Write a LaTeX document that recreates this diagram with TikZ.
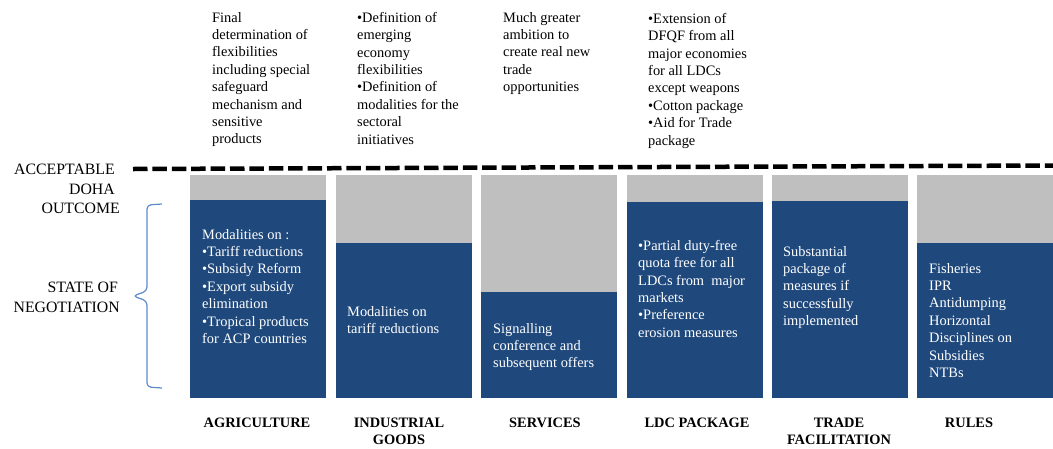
\documentclass[tikz,border=0pt]{standalone}
\usepackage{fontspec}
\setmainfont{Liberation Serif}
\definecolor{barblue}{HTML}{1F497D}
\definecolor{bargray}{HTML}{BFBFBF}
\definecolor{bracecol}{HTML}{5B8BCB}
\begin{document}
\begin{tikzpicture}[x=1pt,y=-1pt,
    txt/.style={inner sep=0pt,anchor=north west,align=left,font=\fontsize{14.4}{17.4}\selectfont},
    intxt/.style={txt,text=white},
    sector/.style={inner sep=0pt,anchor=north,align=center,font=\fontsize{14.4}{17}\selectfont\bfseries},
    side/.style={inner sep=0pt,anchor=north east,align=right,font=\fontsize{15.8}{19.5}\selectfont}]
  \useasboundingbox (0,0) rectangle (1053,448);
  % bars: left edge / top of the blue part
  \foreach \x/\t in {190/200,336/243,481/292,627/202,772/201,917/243}{
    \fill[bargray] (\x,175) rectangle (\x+136,\t);
    \fill[barblue] (\x,\t) rectangle (\x+136,398);}
  \draw[line width=4.5pt,dash pattern=on 14.5pt off 4.9pt] (133,169) -- (1053,165.5);
  \draw[bracecol,line width=1.2pt,rounded corners=4pt] (162,204) -- (147,205) -- (147,291) -- (133,296) -- (147,301) -- (147,387) -- (162,388);
  \node[side] (acc) at (120,164) {ACCEPTABLE\kern5pt\\DOHA\kern5pt\\OUTCOME};
  \node[side] (son) at (120,282) {STATE OF\kern2pt\\NEGOTIATION};
  % targets above the line
  \node[txt] (tagr) at (212,12) {Final\\determination of\\flexibilities\\including special\\safeguard\\mechanism and\\sensitive\\products};
  \node[txt] (tind) at (357,12) {•Definition of\\emerging\\economy\\flexibilities\\•Definition of\\modalities for the\\sectoral\\initiatives};
  \node[txt] (tser) at (503,12) {Much greater\\ambition to\\create real new\\trade\\opportunities};
  \node[txt] (tldc) at (648,13) {•Extension of\\DFQF from all\\major economies\\for all LDCs\\except weapons\\•Cotton package\\•Aid for Trade\\package};
  % state inside the bars
  \node[intxt] (sagr) at (202,229) {Modalities on :\\•Tariff reductions\\•Subsidy Reform\\•Export subsidy\\elimination\\•Tropical products\\for ACP countries};
  \node[intxt] (sind) at (347,306) {Modalities on\\tariff reductions};
  \node[intxt] (sser) at (493,323) {Signalling\\conference and\\subsequent offers};
  \node[intxt] (sldc) at (638,240) {•Partial duty-free\\quota free for all\\LDCs from\ \ major\\markets\\•Preference\\erosion measures};
  \node[intxt] (stf) at (783,246) {Substantial\\package of\\measures if\\successfully\\implemented};
  \node[intxt] (srul) at (929,263) {Fisheries\\IPR\\Antidumping\\Horizontal\\Disciplines on\\Subsidies\\NTBs};
  % sectors
  \node[sector] (agr) at (257,418) {AGRICULTURE};
  \node[sector] (ind) at (399,418) {INDUSTRIAL\\GOODS};
  \node[sector] (ser) at (545,418) {SERVICES};
  \node[sector] (ldc) at (697,418) {LDC PACKAGE};
  \node[sector] (tf) at (839,418) {TRADE\\FACILITATION};
  \node[sector] (rul) at (969,418) {RULES};
\end{tikzpicture}
\end{document}
